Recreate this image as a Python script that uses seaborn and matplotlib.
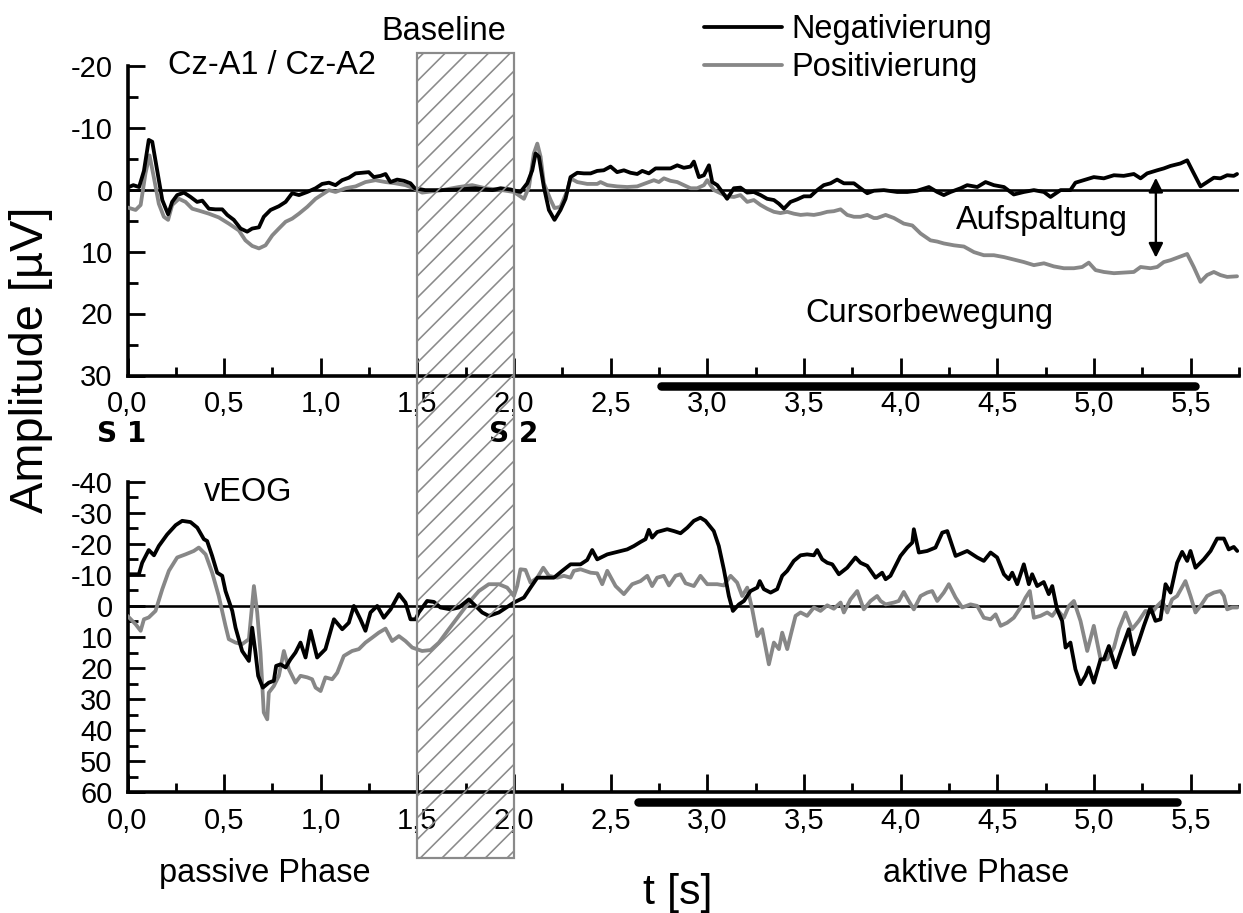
import numpy as np
import pandas as pd
import matplotlib
matplotlib.use("Agg")
import matplotlib.pyplot as plt
import matplotlib.transforms as mtransforms
from matplotlib.patches import Rectangle
from matplotlib.ticker import MultipleLocator, FuncFormatter
import seaborn as sns

# ---------------- data ----------------
cz_neg_t = [0.00, 0.03, 0.06, 0.085, 0.11, 0.128, 0.154, 0.18, 0.21, 0.231, 0.257, 0.292, 0.326, 0.36, 0.387,
            0.421, 0.455, 0.49, 0.516, 0.55, 0.585, 0.619, 0.645, 0.68, 0.705, 0.74, 0.783, 0.818, 0.852, 0.887,
            0.93, 0.973, 1.007, 1.042, 1.076, 1.11, 1.145, 1.18, 1.214, 1.248, 1.274, 1.309, 1.335, 1.36, 1.395,
            1.43, 1.464, 1.486, 1.54, 1.628, 1.714, 1.8, 1.887, 1.93, 1.982, 2.033, 2.068, 2.094, 2.111, 2.128,
            2.154, 2.18, 2.209, 2.24, 2.266, 2.292, 2.327, 2.361, 2.396, 2.43, 2.464, 2.499, 2.533, 2.568, 2.602,
            2.637, 2.663, 2.697, 2.732, 2.775, 2.809, 2.844, 2.878, 2.913, 2.93, 2.956, 2.982, 3.008, 3.025, 3.051,
            3.077, 3.102, 3.137, 3.171, 3.206, 3.24, 3.275, 3.309, 3.344, 3.37, 3.396, 3.43, 3.464, 3.499, 3.533,
            3.568, 3.602, 3.637, 3.671, 3.706, 3.758, 3.792, 3.827, 3.861, 3.913, 3.982, 4.034, 4.085, 4.146,
            4.189, 4.223, 4.258, 4.31, 4.344, 4.396, 4.439, 4.482, 4.534, 4.585, 4.637, 4.689, 4.741, 4.775,
            4.827, 4.878, 4.904, 4.947, 4.999, 5.051, 5.103, 5.154, 5.206, 5.241, 5.275, 5.327, 5.361, 5.396,
            5.447, 5.482, 5.508, 5.551, 5.585, 5.62, 5.654, 5.689, 5.723, 5.74]
cz_neg_v = [-0.3, -0.7, -0.4, -3.0, -8.0, -7.7, -3.0, 1.7, 4.0, 2.0, 0.9, 0.5, 1.2, 2.0, 1.8,
            3.1, 3.2, 3.2, 4.1, 4.9, 6.3, 6.8, 6.3, 6.1, 4.4, 3.3, 2.7, 2.0, 0.6, 0.9,
            0.4, -0.2, -0.9, -1.1, -0.7, -1.5, -1.9, -2.6, -2.7, -2.8, -2.0, -2.2, -2.5, -1.2, -1.6,
            -1.4, -1.0, -0.2, 0.1, 0.1, 0.0, -0.2, 0.1, -0.2, 0.0, 0.4, -1.0, -3.1, -5.8, -5.3,
            -0.4, 3.3, 4.9, 3.3, 1.5, -2.0, -2.7, -2.6, -2.6, -3.0, -3.1, -3.7, -2.8, -3.1, -2.7,
            -2.5, -3.0, -2.6, -3.4, -3.4, -3.4, -3.9, -3.5, -3.7, -4.5, -2.0, -2.3, -3.9, -1.2, -0.7,
            0.4, 1.5, -0.2, -0.3, 0.5, 0.4, 0.9, 1.5, 1.7, 2.3, 3.1, 2.0, 1.6, 1.1, 1.1,
            0.1, -0.7, -1.0, -1.6, -1.0, -1.0, -0.2, 0.6, 0.2, 0.1, 0.4, 0.4, 0.2, -0.4,
            0.4, 0.9, 0.4, -0.2, -0.7, -0.4, -1.2, -0.7, -0.4, 0.8, 0.4, 0.1, 0.4, 1.2,
            0.1, 0.1, -1.1, -1.5, -2.0, -1.8, -2.3, -2.2, -2.5, -1.8, -2.6, -3.1, -3.4, -3.8,
            -4.2, -4.7, -3.1, -0.5, -1.2, -1.9, -1.8, -2.3, -2.2, -2.5]

cz_pos_t = [0.00, 0.042, 0.068, 0.093, 0.114, 0.136, 0.162, 0.188, 0.21, 0.231, 0.266, 0.30, 0.335, 0.369, 0.421,
            0.472, 0.524, 0.576, 0.61, 0.645, 0.68, 0.714, 0.749, 0.783, 0.818, 0.852, 0.887, 0.93, 0.973, 1.007,
            1.042, 1.076, 1.128, 1.18, 1.231, 1.283, 1.335, 1.386, 1.438, 1.481, 1.524, 1.628, 1.714, 1.783, 1.852,
            1.938, 1.999, 2.051, 2.077, 2.102, 2.12, 2.137, 2.154, 2.189, 2.209, 2.24, 2.275, 2.292, 2.327, 2.378,
            2.43, 2.447, 2.482, 2.533, 2.585, 2.637, 2.689, 2.723, 2.749, 2.775, 2.809, 2.844, 2.878, 2.913, 2.947,
            2.982, 2.999, 3.034, 3.068, 3.102, 3.137, 3.171, 3.206, 3.24, 3.275, 3.309, 3.344, 3.378, 3.413, 3.447,
            3.482, 3.516, 3.551, 3.585, 3.62, 3.654, 3.689, 3.723, 3.758, 3.792, 3.827, 3.861, 3.878, 3.922, 3.965,
            4.016, 4.06, 4.103, 4.154, 4.189, 4.223, 4.275, 4.327, 4.379, 4.43, 4.482, 4.534, 4.585, 4.637, 4.689,
            4.741, 4.792, 4.844, 4.896, 4.939, 4.973, 5.008, 5.051, 5.103, 5.154, 5.206, 5.241, 5.292, 5.327, 5.361,
            5.396, 5.43, 5.482, 5.516, 5.551, 5.585, 5.62, 5.654, 5.689, 5.74]
cz_pos_v = [2.9, 3.3, 2.5, -2.6, -5.5, -2.0, 2.3, 4.4, 4.9, 2.5, 1.5, 2.0, 3.1, 3.4, 3.9,
            4.5, 5.5, 6.6, 8.2, 9.1, 9.5, 9.0, 7.4, 6.3, 5.2, 4.7, 3.9, 2.8, 1.5, 0.8,
            0.1, 0.4, -0.2, -0.5, -1.2, -1.5, -1.2, -1.0, -0.7, -0.2, 0.5, 0.1, -0.4, -0.7, -0.2,
            0.1, 0.4, 1.5, -0.4, -5.8, -7.4, -5.3, -1.0, 1.7, 3.0, 2.8, 0.2, -1.8, -1.2, -0.9,
            -0.9, -1.2, -0.7, -0.5, -0.4, -0.5, -1.1, -1.5, -1.2, -1.8, -1.4, -1.2, -0.7, -0.2, -0.2,
            -0.7, -1.5, 0.1, 0.6, 1.1, 1.2, 0.9, 2.0, 1.7, 2.5, 3.1, 3.6, 3.8, 3.6, 3.9,
            4.1, 4.0, 4.1, 3.9, 3.6, 3.5, 3.2, 4.1, 4.4, 4.4, 4.1, 4.6, 4.6, 4.1, 4.6,
            5.5, 5.8, 7.1, 8.2, 8.4, 8.7, 9.0, 9.2, 10.1, 10.6, 10.6, 10.9, 11.3, 11.7, 12.2,
            11.9, 12.4, 12.7, 12.7, 12.5, 11.8, 13.0, 13.3, 13.5, 13.4, 13.3, 12.5, 12.7, 12.5, 11.7,
            11.4, 11.0, 10.4, 12.5, 14.9, 13.8, 13.3, 13.8, 14.1, 14.0]

eog_neg_t = [0.00, 0.059, 0.076, 0.11, 0.137, 0.162, 0.205, 0.249, 0.283, 0.326, 0.361, 0.395, 0.412, 0.438, 0.464,
             0.49, 0.507, 0.542, 0.559, 0.593, 0.628, 0.645, 0.662, 0.676, 0.70, 0.731, 0.757, 0.769, 0.792, 0.818,
             0.843, 0.869, 0.895, 0.921, 0.947, 0.981, 1.024, 1.068, 1.111, 1.145, 1.171, 1.205, 1.231, 1.257, 1.292,
             1.326, 1.361, 1.404, 1.438, 1.464, 1.49, 1.507, 1.55, 1.585, 1.619, 1.671, 1.714, 1.766, 1.792, 1.835,
             1.869, 1.921, 1.999, 2.051, 2.085, 2.12, 2.154, 2.206, 2.249, 2.292, 2.344, 2.378, 2.404, 2.43, 2.482,
             2.533, 2.585, 2.62, 2.654, 2.68, 2.697, 2.714, 2.74, 2.792, 2.827, 2.861, 2.896, 2.93, 2.964, 2.99,
             3.033, 3.059, 3.085, 3.111, 3.132, 3.163, 3.189, 3.223, 3.258, 3.271, 3.292, 3.327, 3.361, 3.387, 3.413,
             3.447, 3.482, 3.516, 3.551, 3.568, 3.594, 3.62, 3.646, 3.68, 3.723, 3.766, 3.792, 3.827, 3.87, 3.904,
             3.922, 3.947, 3.973, 3.999, 4.034, 4.06, 4.068, 4.094, 4.137, 4.18, 4.215, 4.241, 4.284, 4.344, 4.396,
             4.43, 4.465, 4.499, 4.534, 4.559, 4.577, 4.603, 4.637, 4.663, 4.68, 4.706, 4.74, 4.766, 4.784, 4.809,
             4.835, 4.853, 4.878, 4.904, 4.93, 4.956, 4.973, 4.999, 5.034, 5.051, 5.077, 5.111, 5.146, 5.18, 5.206,
             5.232, 5.258, 5.292, 5.318, 5.344, 5.37, 5.396, 5.43, 5.456, 5.482, 5.499, 5.525, 5.568, 5.603, 5.637,
             5.672, 5.697, 5.723, 5.741]
eog_neg_v = [-10.2, -10.2, -13.9, -18.0, -16.3, -19.3, -23.0, -26.0, -27.4, -27.0, -25.2, -21.5, -20.9, -16.1, -10.7,
             -9.7, -4.8, 1.6, 7.0, 14.5, 17.7, 7.0, 15.0, 22.5, 26.3, 24.7, 24.1, 19.3, 18.8, 19.8,
             17.2, 15.0, 11.8, 16.6, 8.0, 16.6, 13.9, 4.3, 7.5, 5.4, 0.0, 4.3, 8.0, 2.1, 0.0,
             3.8, 1.1, -3.8, -1.1, 4.3, 4.3, 2.1, -1.6, -1.3, 0.5, 1.1, 0.5, -2.1, -0.5, 2.1,
             3.2, 2.1, -1.1, -2.7, -5.9, -9.1, -9.1, -9.1, -11.3, -13.4, -13.4, -14.8, -18.0, -15.0, -16.6,
             -17.4, -18.2, -19.3, -20.6, -21.5, -24.5, -22.0, -23.8, -24.7, -24.1, -23.4, -25.2, -27.4, -28.4, -27.4,
             -24.1, -19.3, -11.8, -3.2, 1.6, -0.5, -1.6, -4.8, -5.9, -8.0, -5.4, -4.3, -5.4, -9.7, -11.3,
             -14.5, -16.3, -16.6, -16.3, -18.0, -15.0, -13.9, -13.4, -10.2, -12.3, -15.6, -13.9, -12.9, -9.1, -10.7,
             -8.6, -9.7, -12.9, -16.1, -18.8, -20.4, -24.7, -17.2, -17.7, -18.8, -23.6, -24.1, -16.1, -17.7, -15.6,
             -14.5, -17.2, -15.6, -10.2, -8.6, -10.7, -7.0, -13.4, -7.0, -10.2, -6.4, -7.7, -3.8, -6.4, 1.1,
             4.8, 13.4, 11.8, 20.4, 25.2, 22.5, 19.8, 24.7, 17.2, 17.2, 12.9, 19.8, 13.4, 7.5, 15.6,
             11.3, 6.4, 0.5, 4.8, 4.3, -7.0, -4.3, -13.9, -17.4, -14.5, -17.7, -12.3, -15.0, -17.7, -21.7,
             -21.7, -18.2, -19.0, -17.7]

eog_pos_t = [0.00, 0.042, 0.068, 0.085, 0.11, 0.145, 0.18, 0.214, 0.257, 0.30, 0.343, 0.369, 0.404, 0.438, 0.472,
             0.507, 0.524, 0.559, 0.593, 0.628, 0.654, 0.671, 0.688, 0.705, 0.723, 0.731, 0.757, 0.783, 0.809, 0.835,
             0.869, 0.895, 0.93, 0.955, 0.973, 0.999, 1.024, 1.059, 1.085, 1.119, 1.162, 1.197, 1.231, 1.266, 1.30,
             1.335, 1.369, 1.404, 1.438, 1.473, 1.524, 1.568, 1.611, 1.662, 1.714, 1.766, 1.818, 1.869, 1.921, 1.964,
             1.999, 2.016, 2.033, 2.059, 2.085, 2.12, 2.151, 2.18, 2.223, 2.258, 2.292, 2.309, 2.344, 2.396, 2.43,
             2.456, 2.482, 2.525, 2.568, 2.611, 2.654, 2.689, 2.714, 2.74, 2.775, 2.801, 2.835, 2.861, 2.887, 2.93,
             2.964, 2.999, 3.051, 3.085, 3.12, 3.154, 3.18, 3.206, 3.232, 3.258, 3.283, 3.318, 3.344, 3.37, 3.387,
             3.413, 3.434, 3.456, 3.482, 3.516, 3.551, 3.585, 3.62, 3.654, 3.689, 3.706, 3.74, 3.775, 3.809, 3.844,
             3.878, 3.896, 3.922, 3.965, 3.99, 4.016, 4.042, 4.068, 4.103, 4.137, 4.163, 4.189, 4.223, 4.249, 4.284,
             4.318, 4.361, 4.396, 4.43, 4.465, 4.491, 4.517, 4.551, 4.585, 4.62, 4.646, 4.668, 4.689, 4.723, 4.758,
             4.784, 4.809, 4.844, 4.87, 4.896, 4.93, 4.965, 4.999, 5.034, 5.068, 5.103, 5.128, 5.163, 5.197, 5.232,
             5.266, 5.301, 5.327, 5.353, 5.379, 5.404, 5.43, 5.473, 5.499, 5.525, 5.551, 5.585, 5.62, 5.654, 5.672,
             5.689, 5.715, 5.741]
eog_pos_v = [3.2, 5.9, 8.0, 4.3, 3.7, 1.6, -5.4, -11.3, -15.6, -16.6, -17.7, -18.8, -16.6, -10.7, -3.2,
             6.4, 10.7, 11.8, 12.3, 10.7, -6.4, 2.1, 15.0, 34.3, 36.5, 27.9, 25.8, 22.5, 14.5, 20.4,
             24.7, 22.5, 23.0, 23.6, 26.3, 27.4, 23.0, 23.6, 21.5, 16.1, 14.5, 13.9, 11.8, 10.2, 8.6,
             7.3, 11.3, 9.7, 11.3, 13.4, 14.5, 14.2, 11.8, 7.5, 3.2, -1.1, -4.8, -7.0, -7.0, -5.9,
             -3.2, -6.4, -11.8, -11.6, -7.5, -9.1, -12.3, -9.7, -9.1, -9.7, -9.1, -11.3, -11.8, -10.7, -10.5,
             -7.0, -11.3, -6.4, -3.8, -7.0, -8.0, -9.7, -6.4, -9.1, -9.7, -6.6, -9.7, -10.2, -7.3, -6.4,
             -9.7, -7.0, -7.0, -6.6, -9.7, -7.5, -3.2, -5.9, 1.1, 9.7, 7.5, 18.8, 11.8, 13.9, 8.6,
             13.9, 8.6, 3.2, 2.1, 3.2, 0.5, 1.6, -0.2, 0.9, -1.1, 2.1, -2.1, -4.8, 1.1, -1.6,
             -3.2, -1.6, -0.5, -1.1, -1.6, -4.5, -1.6, 1.1, -3.2, -4.3, -4.8, -1.6, -4.3, -7.0, -2.7,
             0.5, -0.5, 0.0, 3.8, 4.3, 2.7, 6.4, 5.4, 3.8, 0.5, -2.7, -4.8, 3.8, 3.2, 2.1,
             3.2, 1.1, 3.8, 0.0, -1.6, 4.8, 14.5, 6.4, 17.2, 17.2, 13.4, 7.5, 2.1, 7.5, 4.8,
             1.6, 2.1, 0.0, -1.6, 2.1, -2.1, -3.2, -8.0, -3.2, 2.1, 0.0, -3.2, -4.3, -4.8, -3.2,
             1.1, 0.5, 0.5]

series_labels = ["Negativierung", "Positivierung"]
x_ticks = [0.0, 0.5, 1.0, 1.5, 2.0, 2.5, 3.0, 3.5, 4.0, 4.5, 5.0, 5.5]
cz_yticks = [-20, -10, 0, 10, 20, 30]
eog_yticks = [-40, -30, -20, -10, 0, 10, 20, 30, 40, 50, 60]

# ---------------- style ----------------
W, H = 1243, 913
DPI = 130


def pt(px):
    return px * 72.0 / DPI


sns.set_theme(style="ticks")
plt.rcParams["font.family"] = ["Liberation Sans", "DejaVu Sans"]
plt.rcParams["text.color"] = "black"
plt.rcParams["axes.labelcolor"] = "black"
plt.rcParams["xtick.color"] = "black"
plt.rcParams["ytick.color"] = "black"
plt.rcParams["hatch.linewidth"] = pt(1.6)
plt.rcParams["hatch.color"] = "#8a8a8a"

BLACK = "#000000"
GRAY = "#878787"
LW = pt(3.8)
TICK_FS = pt(29)
ANN_FS = pt(32.5)
BIG_FS = pt(47)

fig = plt.figure(figsize=(W / DPI, H / DPI), dpi=DPI)
fig.patch.set_facecolor("white")

left = 127.5 / W
width = (5.75 * 193.3) / W
ax_top = fig.add_axes([left, (H - 375.5) / H, width, 310 / H])
ax_bot = fig.add_axes([left, (H - 792.3) / H, width, 310.6 / H])

df_top = pd.concat([
    pd.DataFrame({"t": cz_neg_t, "v": cz_neg_v, "s": series_labels[0]}),
    pd.DataFrame({"t": cz_pos_t, "v": cz_pos_v, "s": series_labels[1]}),
])
df_bot = pd.concat([
    pd.DataFrame({"t": eog_neg_t, "v": eog_neg_v, "s": series_labels[0]}),
    pd.DataFrame({"t": eog_pos_t, "v": eog_pos_v, "s": series_labels[1]}),
])

for ax, df in ((ax_top, df_top), (ax_bot, df_bot)):
    ax.axhline(0, color=BLACK, lw=pt(2.6), zorder=1)
    # gray first, black on top
    sns.lineplot(data=df[df.s == series_labels[1]], x="t", y="v", color=GRAY, lw=LW,
                 estimator=None, sort=False, ax=ax, label=series_labels[1] if ax is ax_top else None,
                 legend=False, zorder=3)
    sns.lineplot(data=df[df.s == series_labels[0]], x="t", y="v", color=BLACK, lw=LW,
                 estimator=None, sort=False, ax=ax, label=series_labels[0] if ax is ax_top else None,
                 legend=False, zorder=4)
    ax.set_xlim(0, 5.75)
    ax.set_xlabel("")
    ax.set_ylabel("")
    ax.set_facecolor("none")
    for side in ("top", "right"):
        ax.spines[side].set_visible(False)
    for side in ("left", "bottom"):
        ax.spines[side].set_linewidth(pt(3.6))
        ax.spines[side].set_color(BLACK)
    ax.xaxis.set_major_locator(MultipleLocator(0.5))
    ax.xaxis.set_minor_locator(MultipleLocator(0.25))
    ax.yaxis.set_major_locator(MultipleLocator(10))
    ax.yaxis.set_minor_locator(MultipleLocator(5))
    ax.xaxis.set_major_formatter(FuncFormatter(lambda v, p: f"{v:.1f}".replace(".", ",")))
    ax.yaxis.set_major_formatter(FuncFormatter(lambda v, p: f"{v:.0f}"))
    ax.tick_params(which="major", direction="in", length=pt(18), width=pt(2.8), color=BLACK,
                   labelsize=TICK_FS, labelcolor=BLACK)
    ax.tick_params(which="minor", direction="in", length=pt(9), width=pt(2.8), color=BLACK)
    ax.tick_params(axis="y", which="major", length=pt(17))
    ax.tick_params(axis="y", which="minor", length=pt(10))
    ax.tick_params(axis="x", which="major", pad=pt(15))
    ax.tick_params(axis="y", which="major", pad=pt(15))

ax_top.set_ylim(30, -20)
ax_top.set_yticks(cz_yticks)
ax_bot.set_ylim(60, -40)
ax_bot.set_yticks(eog_yticks)
ax_top.set_xticks(x_ticks)
ax_bot.set_xticks(x_ticks)

# baseline window spanning both panels
blend_fig = mtransforms.blended_transform_factory(ax_top.transData, fig.transFigure)
rect = Rectangle((1.5, (H - 858) / H), 0.5, (858 - 53) / H, transform=blend_fig,
                 facecolor="none", edgecolor="#8a8a8a", hatch="//", lw=pt(2.2), zorder=10)
fig.add_artist(rect)

# thick bars below x axes
for ax, x0, x1, yoff, hgt, axh in ((ax_top, 2.76, 5.52, 386, 375.5, 310.0), (ax_bot, 2.64, 5.43, 802, 792.3, 310.6)):
    tr = mtransforms.blended_transform_factory(ax.transData, ax.transAxes)
    ax.plot([x0, x1], [-(yoff - hgt) / axh] * 2, color=BLACK, lw=pt(8.5), transform=tr,
            clip_on=False, solid_capstyle="round")

# legend
handles, labels = ax_top.get_legend_handles_labels()
order = [labels.index(series_labels[0]), labels.index(series_labels[1])]
leg = fig.legend([handles[i] for i in order], [labels[i] for i in order],
                 loc="upper left", bbox_to_anchor=(704 / W, (H - 14) / H), bbox_transform=fig.transFigure,
                 frameon=False, fontsize=ANN_FS, handlelength=2.4, handletextpad=0.3,
                 labelspacing=0.22, borderpad=0, borderaxespad=0)
for line in leg.get_lines():
    line.set_linewidth(pt(3.8))

# texts
ax_top.text(0.21, -20, "Cz-A1 / Cz-A2", fontsize=ANN_FS, ha="left", va="center")
ax_top.text(1.637, -25.5, "Baseline", fontsize=ANN_FS, ha="center", va="center")
ax_top.text(4.73, 5.0, "Aufspaltung", fontsize=ANN_FS, ha="center", va="center")
ax_top.text(4.15, 20.0, "Cursorbewegung", fontsize=ANN_FS, ha="center", va="center")
ax_top.annotate("", xy=(5.32, -1.9), xytext=(5.32, 11.0),
                arrowprops=dict(arrowstyle="<|-|>", color=BLACK, lw=pt(2.4), mutation_scale=pt(30),
                                shrinkA=0, shrinkB=0))
ax_top.text(-0.03, 39.5, "S 1", fontsize=pt(28), fontweight="heavy", ha="center", va="center",
            family="DejaVu Sans")
ax_top.text(2.0, 39.5, "S 2", fontsize=pt(28), fontweight="heavy", ha="center", va="center",
            family="DejaVu Sans")

ax_bot.text(0.396, -36.4, "vEOG", fontsize=ANN_FS, ha="left", va="center")
ax_bot.text(0.71, 86.3, "passive Phase", fontsize=ANN_FS, ha="center", va="center")
ax_bot.text(4.39, 86.3, "aktive Phase", fontsize=ANN_FS, ha="center", va="center")
ax_bot.text(2.846, 92.5, "t [s]", fontsize=pt(43), ha="center", va="center")

fig.text(31 / W, (H - 360) / H, "Amplitude [µV]", fontsize=BIG_FS, rotation=90, ha="center", va="center")

fig.savefig("out.png", dpi=DPI, facecolor="white")
